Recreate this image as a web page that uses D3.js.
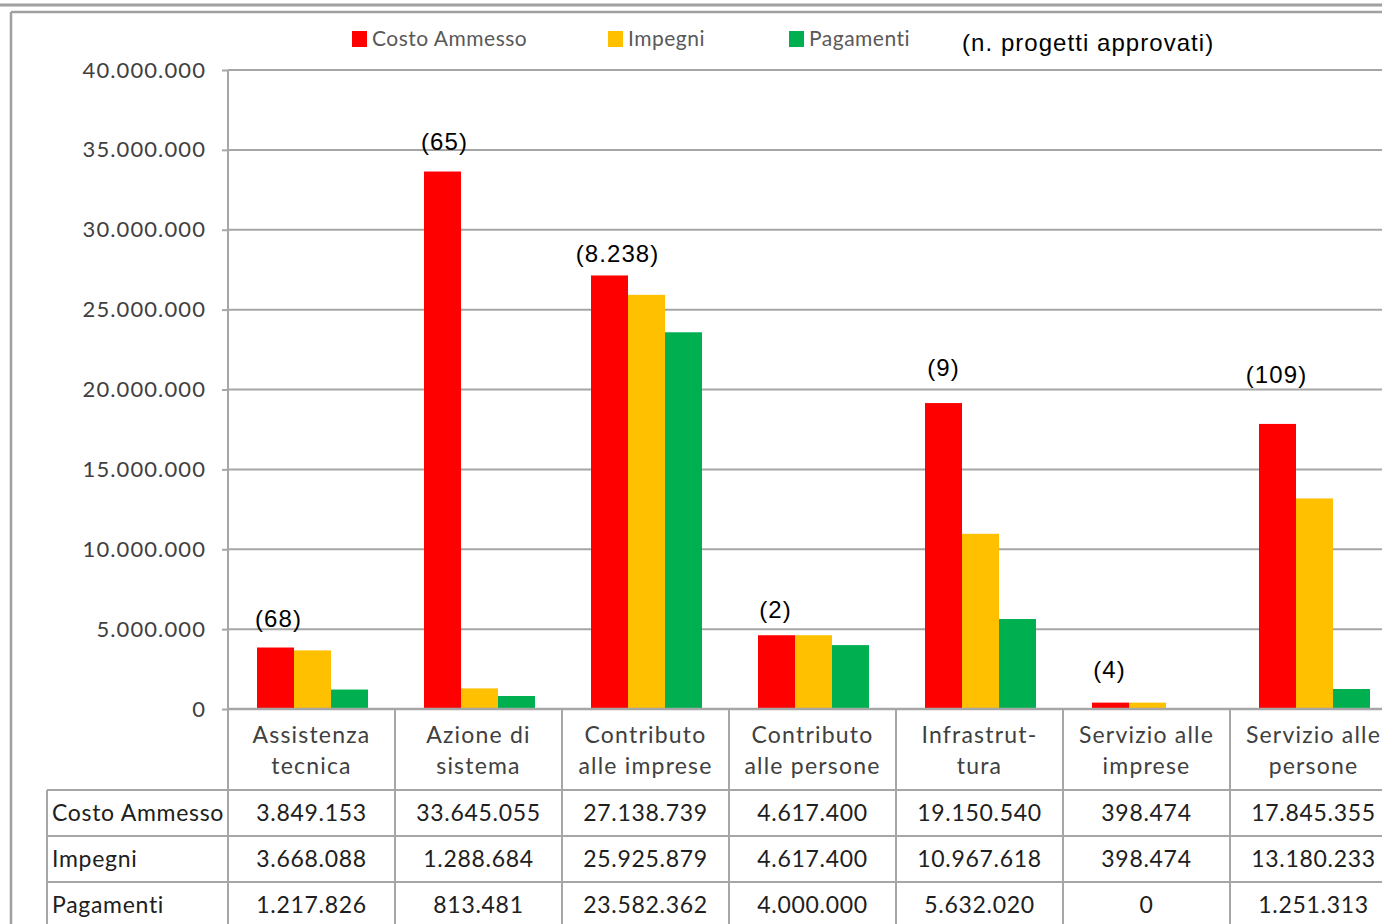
<!DOCTYPE html>
<html><head><meta charset="utf-8">
<script src="https://cdn.jsdelivr.net/npm/d3@7"></script>
<style>
html,body{margin:0;padding:0;background:#fff;overflow:hidden}
</style></head>
<body>
<svg id="chart" width="1382" height="924"></svg>
<script>
// ---- data ----
const categories = [["Assistenza","tecnica"],["Azione di","sistema"],["Contributo","alle imprese"],["Contributo","alle persone"],["Infrastrut-","tura"],["Servizio alle","imprese"],["Servizio alle","persone"]];
const seriesNames = ["Costo Ammesso","Impegni","Pagamenti"];
const costoAmmesso = [3849153,33645055,27138739,4617400,19150540,398474,17845355];
const impegni = [3668088,1288684,25925879,4617400,10967618,398474,13180233];
const pagamenti = [1217826,813481,23582362,4000000,5632020,0,1251313];
const progettiLabels = ["(68)","(65)","(8.238)","(2)","(9)","(4)","(109)"];
const yTicks = [0,5000000,10000000,15000000,20000000,25000000,30000000,35000000,40000000];
const seriesColors = ["#FF0000","#FFC000","#00B050"];

// ---- layout ----
const annoDx = [3,2,8,-1,0,-1,-1];
const annoDy = [29,30,22,26,35,33,49];
const svg = d3.select("#chart");
const values = [costoAmmesso, impegni, pagamenti];
const catKeys = categories.map((c,i)=>i);
const left = 228, bandW = 167;
const x = d3.scaleBand().domain(catKeys).range([left, left + bandW*categories.length]).paddingInner(0).paddingOuter(0);
const y = d3.scaleLinear().domain([0,40000000]).range([709,70]);
const xs = d3.scaleBand().domain([0,1,2]).range([29, 29+111]);
const loc = d3.formatLocale({decimal:",",thousands:".",grouping:[3],currency:["","€"]});
const fmt = loc.format(",d");
const calib = "Lato, 'Open Sans', sans-serif";
const arial = "'Liberation Sans', Arial, sans-serif";
const gridCol = "#a6a6a6";
const txtCol = "#404040";

// frame
svg.append("line").attr("x1",0).attr("x2",1382).attr("y1",5).attr("y2",5).attr("stroke","#a0a0a0").attr("stroke-width",3);
svg.append("line").attr("x1",11).attr("x2",1382).attr("y1",12).attr("y2",12).attr("stroke","#a0a0a0").attr("stroke-width",2.5);
svg.append("line").attr("x1",11).attr("x2",11).attr("y1",12).attr("y2",924).attr("stroke","#a0a0a0").attr("stroke-width",2.5);

// gridlines
svg.append("g").selectAll("line").data(yTicks).join("line")
  .attr("x1",left).attr("x2",1382).attr("y1",d=>y(d)).attr("y2",d=>y(d))
  .attr("stroke",gridCol).attr("stroke-width",2);

// y axis
const yAxis = d3.axisLeft(y).tickValues(yTicks).tickSize(6).tickPadding(16).tickFormat(d=>fmt(d));
const ga = svg.append("g").attr("transform",`translate(${left},0)`).call(yAxis);
ga.select(".domain").remove();
ga.selectAll(".tick line").attr("stroke",gridCol).attr("stroke-width",2);
ga.selectAll(".tick text").attr("font-family",calib).attr("font-size",22).attr("letter-spacing",1.1).attr("fill",txtCol);
svg.append("line").attr("x1",left).attr("x2",left).attr("y1",y(40000000)).attr("y2",924).attr("stroke",gridCol).attr("stroke-width",2);

// bars
const bars = [];
catKeys.forEach(i=>values.forEach((arr,s)=>bars.push({i,s,v:arr[i]})));
svg.append("g").selectAll("rect").data(bars).join("rect")
  .attr("x",d=>x(d.i)+xs(d.s)).attr("width",xs.bandwidth())
  .attr("y",d=>y(d.v)).attr("height",d=>y(0)-y(d.v))
  .attr("fill",d=>seriesColors[d.s]);

// annotations
svg.append("g").selectAll("text").data(progettiLabels).join("text")
  .attr("x",(d,i)=>x(i)+xs(0)+xs.bandwidth()/2+annoDx[i])
  .attr("y",(d,i)=>y(costoAmmesso[i])-annoDy[i])
  .attr("dy","0.35em").attr("text-anchor","middle")
  .attr("font-family",arial).attr("font-size",24).attr("letter-spacing",1.1).attr("fill","#000")
  .text(d=>d);

// baseline
svg.append("line").attr("x1",left).attr("x2",1382).attr("y1",y(0)).attr("y2",y(0)).attr("stroke",gridCol).attr("stroke-width",2.5);

// table
const tTop = 790, rowH = 46, tLeft = 47;
svg.append("g").selectAll("line").data(catKeys.map(i=>x(i)).concat([x(categories.length-1)+bandW]))
  .join("line").attr("x1",d=>d).attr("x2",d=>d).attr("y1",y(0)).attr("y2",924)
  .attr("stroke",gridCol).attr("stroke-width",2);
svg.append("line").attr("x1",tLeft).attr("x2",tLeft).attr("y1",tTop).attr("y2",924).attr("stroke",gridCol).attr("stroke-width",2);
svg.append("g").selectAll("line").data([0,1,2]).join("line")
  .attr("x1",tLeft).attr("x2",1382).attr("y1",d=>tTop+d*rowH).attr("y2",d=>tTop+d*rowH)
  .attr("stroke",gridCol).attr("stroke-width",2);

// category labels
const cl = svg.append("g").selectAll("text").data(categories).join("text")
  .attr("x",(d,i)=>x(i)+bandW/2).attr("text-anchor","middle")
  .attr("font-family",calib).attr("font-size",23).attr("letter-spacing",1.2).attr("fill",txtCol);
cl.each(function(d){
  const t = d3.select(this);
  d.forEach((line,k)=>t.append("tspan").attr("x",t.attr("x")).attr("y",735+k*31).attr("dy","0.35em").text(line));
});

// row labels + values
seriesNames.forEach((name,r)=>{
  const cy = tTop + r*rowH + rowH/2;
  svg.append("text").attr("x",tLeft+5).attr("y",cy).attr("dy","0.35em")
    .attr("font-family",calib).attr("font-size",23).attr("letter-spacing",0.7).attr("fill","#202020").text(name);
  svg.append("g").selectAll("text").data(values[r]).join("text")
    .attr("x",(d,i)=>x(i)+bandW/2).attr("y",cy).attr("dy","0.35em").attr("text-anchor","middle")
    .attr("font-family",calib).attr("font-size",23).attr("letter-spacing",0.7).attr("fill","#202020").text(d=>fmt(d));
});

// legend
const legX = [352,608,789];
const lg = svg.append("g").selectAll("g").data(seriesNames).join("g")
  .attr("transform",(d,i)=>`translate(${legX[i]},31)`);
lg.append("rect").attr("width",15).attr("height",16).attr("fill",(d,i)=>seriesColors[i]);
lg.append("text").attr("x",20).attr("y",8).attr("dy","0.35em")
  .attr("font-family",calib).attr("font-size",21).attr("letter-spacing",0.5).attr("fill","#595959").text(d=>d);
svg.append("text").attr("x",962).attr("y",43).attr("dy","0.35em")
  .attr("font-family",arial).attr("font-size",24).attr("letter-spacing",1.05).attr("fill","#000")
  .text("(n. progetti approvati)");
</script>
</body></html>
